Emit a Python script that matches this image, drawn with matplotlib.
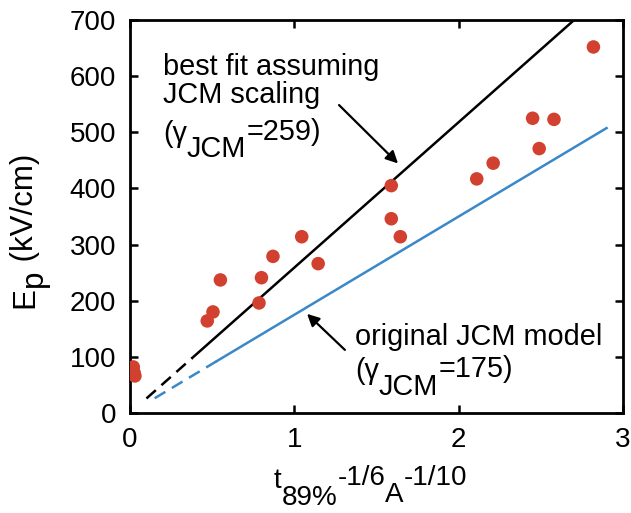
import matplotlib
matplotlib.use("Agg")
import matplotlib.pyplot as plt
from matplotlib.font_manager import FontProperties
from matplotlib.transforms import IdentityTransform
import numpy as np

FAM = ['Liberation Sans', 'DejaVu Sans']
plt.rcParams['font.family'] = FAM

# data points (red dots)
x_data = [0.02, 0.025, 0.03, 0.47, 0.505, 0.55, 0.785, 0.80, 0.87, 1.045, 1.145,
          1.59, 1.59, 1.645, 2.11, 2.21, 2.45, 2.49, 2.58, 2.82]
y_data = [82, 72, 66, 164, 180, 237, 196, 241, 279, 314, 266,
          405, 346, 314, 417, 445, 525, 471, 523, 652]

gamma_fit = 259
gamma_orig = 175
fit_dash_x = [0.10, 0.38]
fit_solid_x = [0.38, 2.70]
orig_dash_x = [0.15, 0.53]
orig_solid_x = [0.53, 2.90]

red = '#d2412f'
blue = '#3b88c9'

W, H = 631, 513
fig = plt.figure(figsize=(W/100, H/100), dpi=100)
ax = fig.add_axes([130/W, (H-413)/H, 493/W, 393/H])

fx = np.array(fit_dash_x); ax.plot(fx, gamma_fit*fx, color='black', lw=1.8, ls=(0, (5, 3)))
fx = np.array(fit_solid_x); ax.plot(fx, gamma_fit*fx, color='black', lw=1.8)
ox = np.array(orig_dash_x); ax.plot(ox, gamma_orig*ox, color=blue, lw=1.8, ls=(0, (5, 3)))
ox = np.array(orig_solid_x); ax.plot(ox, gamma_orig*ox, color=blue, lw=1.8)

ax.scatter(x_data, y_data, s=95, color=red, zorder=5, edgecolors='none')

ax.set_xlim(0, 3)
ax.set_ylim(0, 700)
ax.set_xticks([0, 1, 2, 3])
ax.set_yticks(range(0, 701, 100))
ax.tick_params(direction='in', top=True, right=True, length=6, width=1.8, labelsize=20)
ax.tick_params(axis='x', pad=10)
ax.tick_params(axis='y', pad=10)
for s in ax.spines.values():
    s.set_linewidth(2)

renderer = fig.canvas.get_renderer()


def text_width(s, size):
    prop = FontProperties(family=FAM, size=size)
    w1, _, _ = renderer.get_text_width_height_descent('x' + s + 'x', prop, ismath=False)
    w2, _, _ = renderer.get_text_width_height_descent('xx', prop, ismath=False)
    return w1 - w2


def rich(x0, y0_top, pieces, size, rotation=0):
    """pieces: (string, baseline shift in px, positive = up)"""
    y0 = H - y0_top
    cur = 0.0
    for s, dy in pieces:
        if rotation == 0:
            x, y = x0 + cur, y0 + dy
        else:
            x, y = x0 - dy, y0 + cur
        fig.text(x, y, s, transform=IdentityTransform(), fontsize=size, family=FAM,
                 ha='left', va='baseline', rotation=rotation, rotation_mode='anchor')
        cur += text_width(s, size)


FS = 20.8
# annotation 1
rich(163, 75, [('best fit assuming', 0)], FS)
rich(163, 103, [('JCM scaling', 0)], FS)
rich(163, 142, [('(\u03b3', 0), ('JCM', -15), ('=259)', 2)], FS)
ax.annotate('', xy=(1.643, 441), xytext=(1.26, 552),
            arrowprops=dict(arrowstyle='-|>', color='black', lw=1.6, mutation_scale=18))

# annotation 2
rich(355, 345, [('original JCM model', 0)], FS)
rich(355, 379, [('(\u03b3', 0), ('JCM', -16), ('=175)', 2)], FS)
ax.annotate('', xy=(1.065, 180), xytext=(1.32, 109),
            arrowprops=dict(arrowstyle='-|>', color='black', lw=1.6, mutation_scale=18))

# x label
rich(274, 488, [('t', 0), ('89%', -17), ('-1/6', 3), ('A', -14), ('-1/10', 3)], 20)
# y label (rotated)
rich(33, 308, [('E', 0), ('p', -9), (' (kV/cm)', 0)], 22.5, rotation=90)

fig.savefig('out.png', dpi=100)
